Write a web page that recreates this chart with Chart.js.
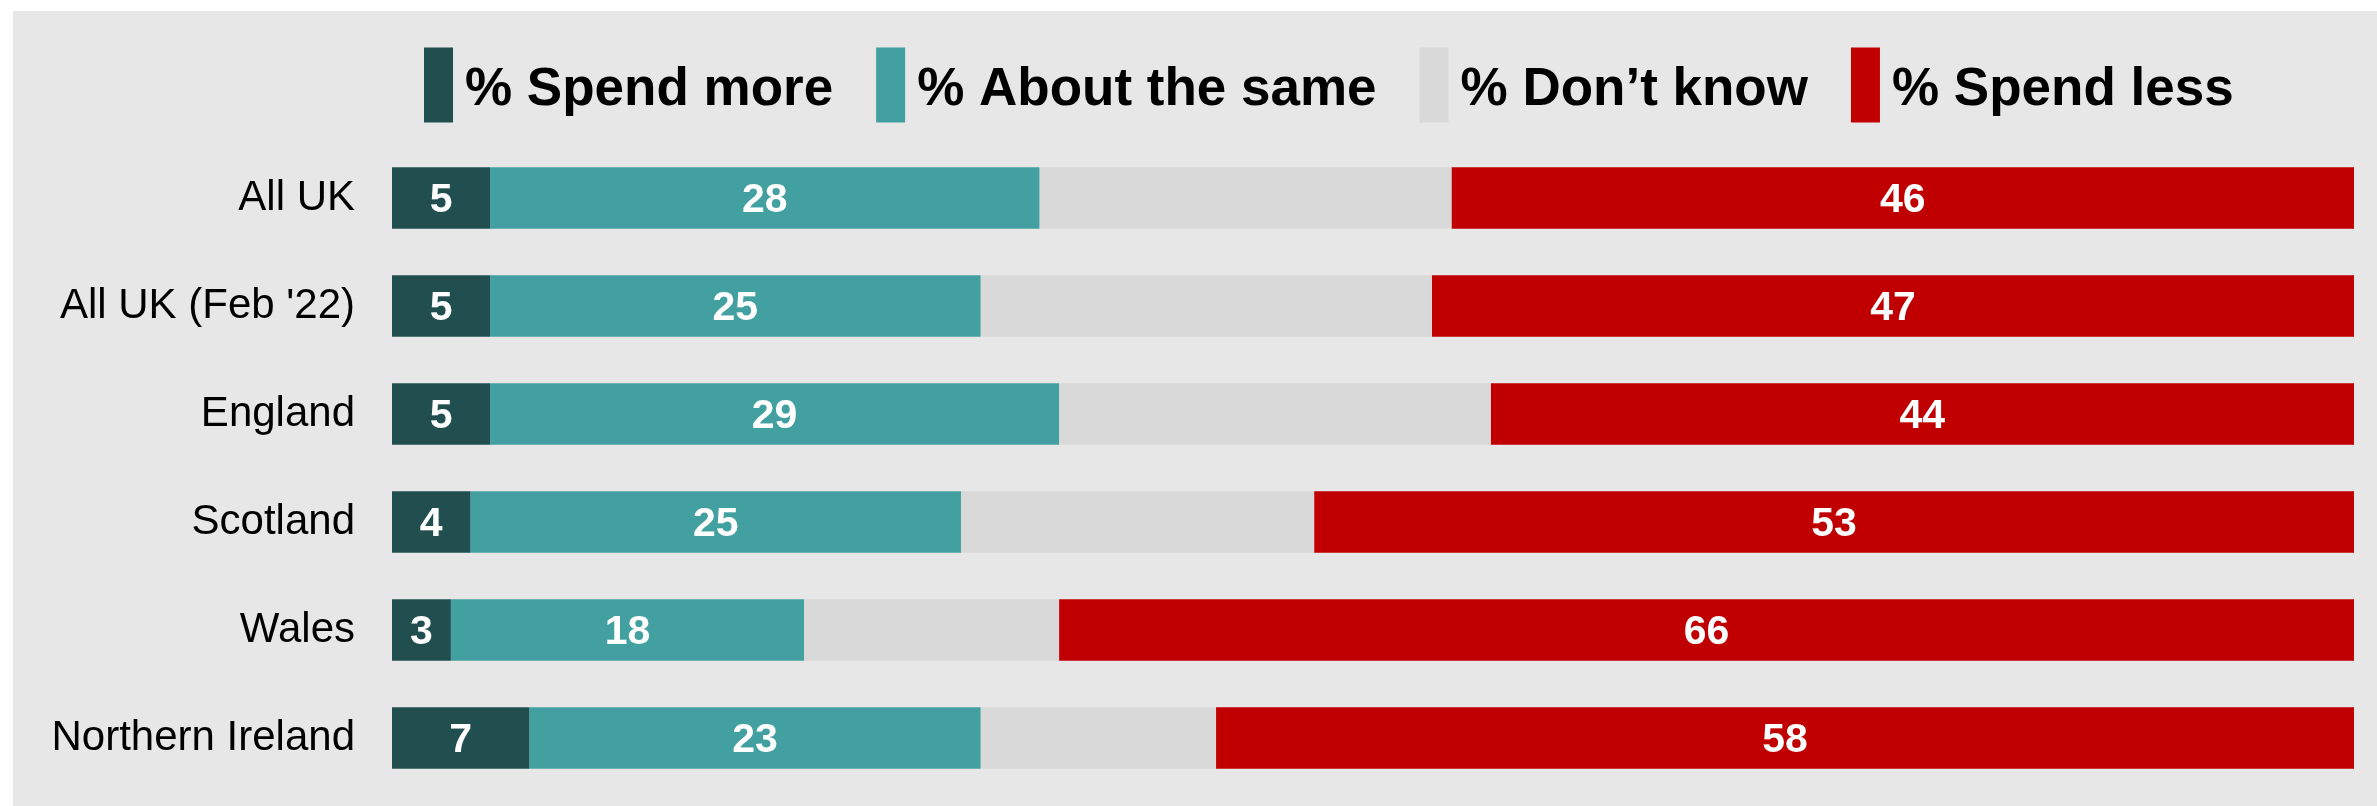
<!DOCTYPE html>
<html lang="en">
<head>
<meta charset="utf-8">
<title>Spending preferences by nation</title>
<script src="https://cdn.jsdelivr.net/npm/chart.js@4"></script>
<style>
  html, body { margin: 0; padding: 0; background: #ffffff; }
  #wrap { position: relative; width: 2377px; height: 806px; }
</style>
</head>
<body>
<div id="wrap"><canvas id="chart" width="2377" height="806"></canvas></div>
<script>
const categories = ['All UK', "All UK (Feb '22)", 'England', 'Scotland', 'Wales', 'Northern Ireland'];
const seriesNames = ['% Spend more', '% About the same', '% Don\u2019t know', '% Spend less'];
const spendMore = [5, 5, 5, 4, 3, 7];
const aboutSame = [28, 25, 29, 25, 18, 23];
const dontKnow = [21, 23, 22, 18, 13, 12];
const spendLess = [46, 47, 44, 53, 66, 58];
const colours = ['#214f50', '#42a0a0', '#d9d9d9', '#c00000'];
const showValues = [true, true, false, true];

const FONT = '"Liberation Sans", Arial, sans-serif';

// grey panel behind everything
const panelPlugin = {
  id: 'panel',
  beforeDraw(chart) {
    const ctx = chart.ctx;
    ctx.save();
    ctx.fillStyle = '#e7e7e7';
    ctx.fillRect(13, 11, chart.width - 13, chart.height - 11);
    ctx.restore();
  }
};

// white numbers in the middle of each bar
const valuePlugin = {
  id: 'values',
  afterDatasetsDraw(chart) {
    const ctx = chart.ctx;
    ctx.save();
    ctx.font = 'bold 41px ' + FONT;
    ctx.fillStyle = '#ffffff';
    ctx.textAlign = 'center';
    ctx.textBaseline = 'middle';
    chart.data.datasets.forEach((ds, di) => {
      if (!showValues[di]) return;
      chart.getDatasetMeta(di).data.forEach((bar, i) => {
        const cx = (bar.x + bar.base) / 2;
        ctx.fillText(String(ds.data[i]), cx, bar.y + 3);
      });
    });
    ctx.restore();
  }
};

// legend row with tall colour blocks
const legendPlugin = {
  id: 'blockLegend',
  afterDraw(chart) {
    const ctx = chart.ctx;
    const boxW = 29, boxH = 75, textGap = 12, itemGap = 43;
    const cy = 85;
    ctx.save();
    ctx.font = 'bold 53px ' + FONT;
    ctx.textBaseline = 'middle';
    ctx.textAlign = 'left';
    let x = chart.chartArea.left + 32;
    chart.data.datasets.forEach(ds => {
      ctx.fillStyle = ds.backgroundColor;
      ctx.fillRect(x, cy - boxH / 2, boxW, boxH);
      x += boxW + textGap;
      ctx.fillStyle = '#000000';
      ctx.fillText(ds.label, x, cy + 5);
      x += ctx.measureText(ds.label).width + itemGap;
    });
    ctx.restore();
  }
};

const seriesData = [spendMore, aboutSame, dontKnow, spendLess];

new Chart(document.getElementById('chart'), {
  type: 'bar',
  data: {
    labels: categories,
    datasets: seriesNames.map((name, i) => ({
      label: name,
      data: seriesData[i],
      backgroundColor: colours[i],
      borderWidth: 0,
      categoryPercentage: 1,
      barPercentage: 0.57
    }))
  },
  options: {
    indexAxis: 'y',
    responsive: false,
    animation: false,
    layout: { padding: { top: 144, bottom: 14, right: 23, left: 0 } },
    plugins: {
      legend: { display: false },
      tooltip: { enabled: false }
    },
    scales: {
      x: {
        stacked: true,
        min: 0,
        max: 100,
        display: false
      },
      y: {
        stacked: true,
        grid: { display: false, drawTicks: false },
        border: { display: false },
        afterFit(scale) {
          scale.width = 392;
          scale.paddingTop = 0;
          scale.paddingBottom = 0;
        },
        ticks: {
          padding: 37,
          color: '#000000',
          font: { family: FONT, size: 42 }
        }
      }
    }
  },
  plugins: [panelPlugin, valuePlugin, legendPlugin]
});
</script>
</body>
</html>
